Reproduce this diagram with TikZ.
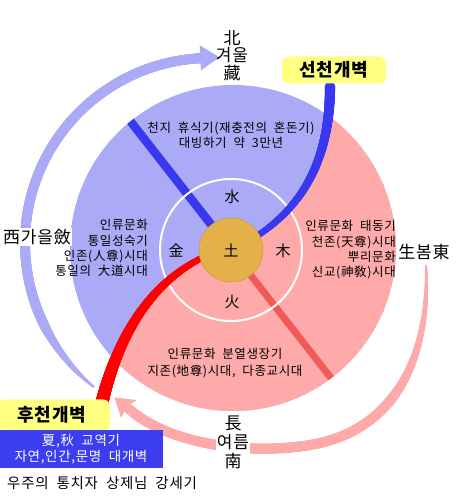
\documentclass[tikz,border=0pt]{standalone}
\usepackage{fontspec}
\setmainfont[WordSpace=2, LetterSpace=5]{Noto Sans CJK KR}
\usetikzlibrary{decorations.markings}
\definecolor{purplefill}{HTML}{AAAAF6}
\definecolor{pinkfill}{HTML}{FFAAAA}
\definecolor{bluec}{HTML}{3838EE}
\definecolor{redc}{HTML}{FF0000}
\definecolor{salmon}{HTML}{F25A5A}
\definecolor{tucol}{HTML}{E3B04A}
\definecolor{tuedge}{HTML}{C99A35}
\definecolor{yellowbox}{HTML}{FFFF80}
\definecolor{bluebox}{HTML}{3C3CF0}
\tikzset{
  taper/.style n args={4}{decorate, decoration={markings,
    mark=between positions 0 and 1 step 0.4pt with {%
      \pgfmathsetmacro\tpr{#2+(#3-#2)*min(1,\pgfkeysvalueof{/pgf/decoration/mark info/distance from start}/(#4*\pgfdecoratedpathlength))}%
      \fill[#1] (0,0) circle[radius=\tpr pt];}}},
  smalltxt/.style={font=\fontsize{12.5}{15.3}\selectfont, inner sep=0pt},
  bigtxt/.style={font=\fontsize{17}{17.5}\selectfont, align=center, inner sep=1pt},
  elem/.style={font=\fontsize{15}{15}\selectfont, inner sep=0pt},
  ybox/.style={fill=yellowbox, rounded corners=7pt, font=\fontsize{18}{18}\selectfont\bfseries, inner sep=0pt}
}
\begin{document}
\begin{tikzpicture}[x=1pt,y=1pt]
\useasboundingbox (0,0) rectangle (460,497);
\fill[white] (0,0) rectangle (460,497);
\begin{scope}[yshift=497pt,yscale=-1]
  % outer season arcs
  \path[taper={purplefill}{1.2}{5}{0.18}] (93.6,386.8) arc[start angle=129, end angle=267, radius=185];
  \fill[purplefill] (219.5,57.3) -- (199.7,45.3) -- (200.9,70.3) -- cycle;
  \path[taper={pinkfill}{1.2}{5}{0.6}] (426,266) .. controls (430,350) and (400,430) .. (310,445);
  \path[taper={pinkfill}{5}{5}{1}] (310,445) .. controls (250,455) and (170,445) .. (129,409);
  \fill[pinkfill] (114.5,397.5) -- (136.9,400) -- (126.7,407) -- (121.1,418) -- cycle;
  % main disc
  \begin{scope}
    \clip (233,248) circle (163);
    \fill[purplefill] (233,248) circle (163);
    \fill[pinkfill] (231,250) -- (240,246) .. controls (285,222) and (330,180) .. (330,85) -- (330,-20) -- (520,-20) -- (520,520) -- (-20,520) -- (-20,402) -- (102,402) .. controls (125,310) and (170,270) .. (215,252) -- cycle;
    \draw[bluec, line width=8.5pt] (231,250) -- ++(-128:180);
    \draw[salmon, line width=7pt] (231,250) -- ++(52:180);
  \end{scope}
  \draw[white, line width=2pt] (231,250) circle (71);
  \path[taper={bluec}{2.8}{5.2}{1}] (240,246) .. controls (285,222) and (330,180) .. (330,86);
  \path[taper={redc}{2.8}{6.5}{1}] (215,252) .. controls (170,270) and (125,310) .. (102,402);
  \node[circle, fill=tucol, draw=tuedge, line width=0.5pt, minimum size=64pt, inner sep=0pt, font=\fontsize{15}{15}\selectfont] (tu) at (231,250) {土};
  \node[elem] (water) at (232,197) {水};
  \node[elem] (metal) at (176,251) {金};
  \node[elem] (wood) at (283,251) {木};
  \node[elem] (fire) at (232,302) {火};
  % texts in the disc
  \node[smalltxt, align=center] (topt) at (231,135) {천지 휴식기(재충전의 혼돈기)\\대빙하기 약 3만년};
  \node[smalltxt, align=right, anchor=east] (leftt) at (148,248) {인류문화\\통일성숙기\\인존(人尊)시대\\통일의 大道시대};
  \node[smalltxt, align=right, anchor=east] (rightt) at (396,250) {인류문화 태동기\\천존(天尊)시대\\뿌리문화\\신교(神敎)시대};
  \node[smalltxt, align=center, font=\fontsize{12.5}{17}\selectfont] (bott) at (225,363) {인류문화 분열생장기\\지존(地尊)시대, 다종교시대};
  % direction labels
  \node[bigtxt] (north) at (232,55.5) {北\\겨울\\藏};
  \node[bigtxt, fill=white] (west) at (37,237) {西가을斂};
  \node[bigtxt, fill=white] (east) at (424,252) {生봄東};
  \node[bigtxt, fill=white, font=\fontsize{17}{19}\selectfont] (south) at (233,442) {長\\여름\\南};
  % boxes
  \node[ybox, minimum width=104pt, minimum height=27pt] (sc) at (334,70) {선천개벽};
  \node[ybox, minimum width=112pt, minimum height=31pt] (hc) at (54,415) {\hspace*{-4pt}후천개벽};
  \node[fill=bluebox, text=white, minimum width=163pt, minimum height=38pt, align=center, inner sep=0pt, font=\fontsize{13.5}{16.5}\selectfont] (bb) at (81,449) {夏,秋 교역기\\자연,인간,문명 대개벽};
  \node[anchor=west, inner sep=0pt, font=\fontsize{14.5}{15}\selectfont] (bt) at (7,483) {우주의 통치자 상제님 강세기};
\end{scope}
\end{tikzpicture}
\end{document}
